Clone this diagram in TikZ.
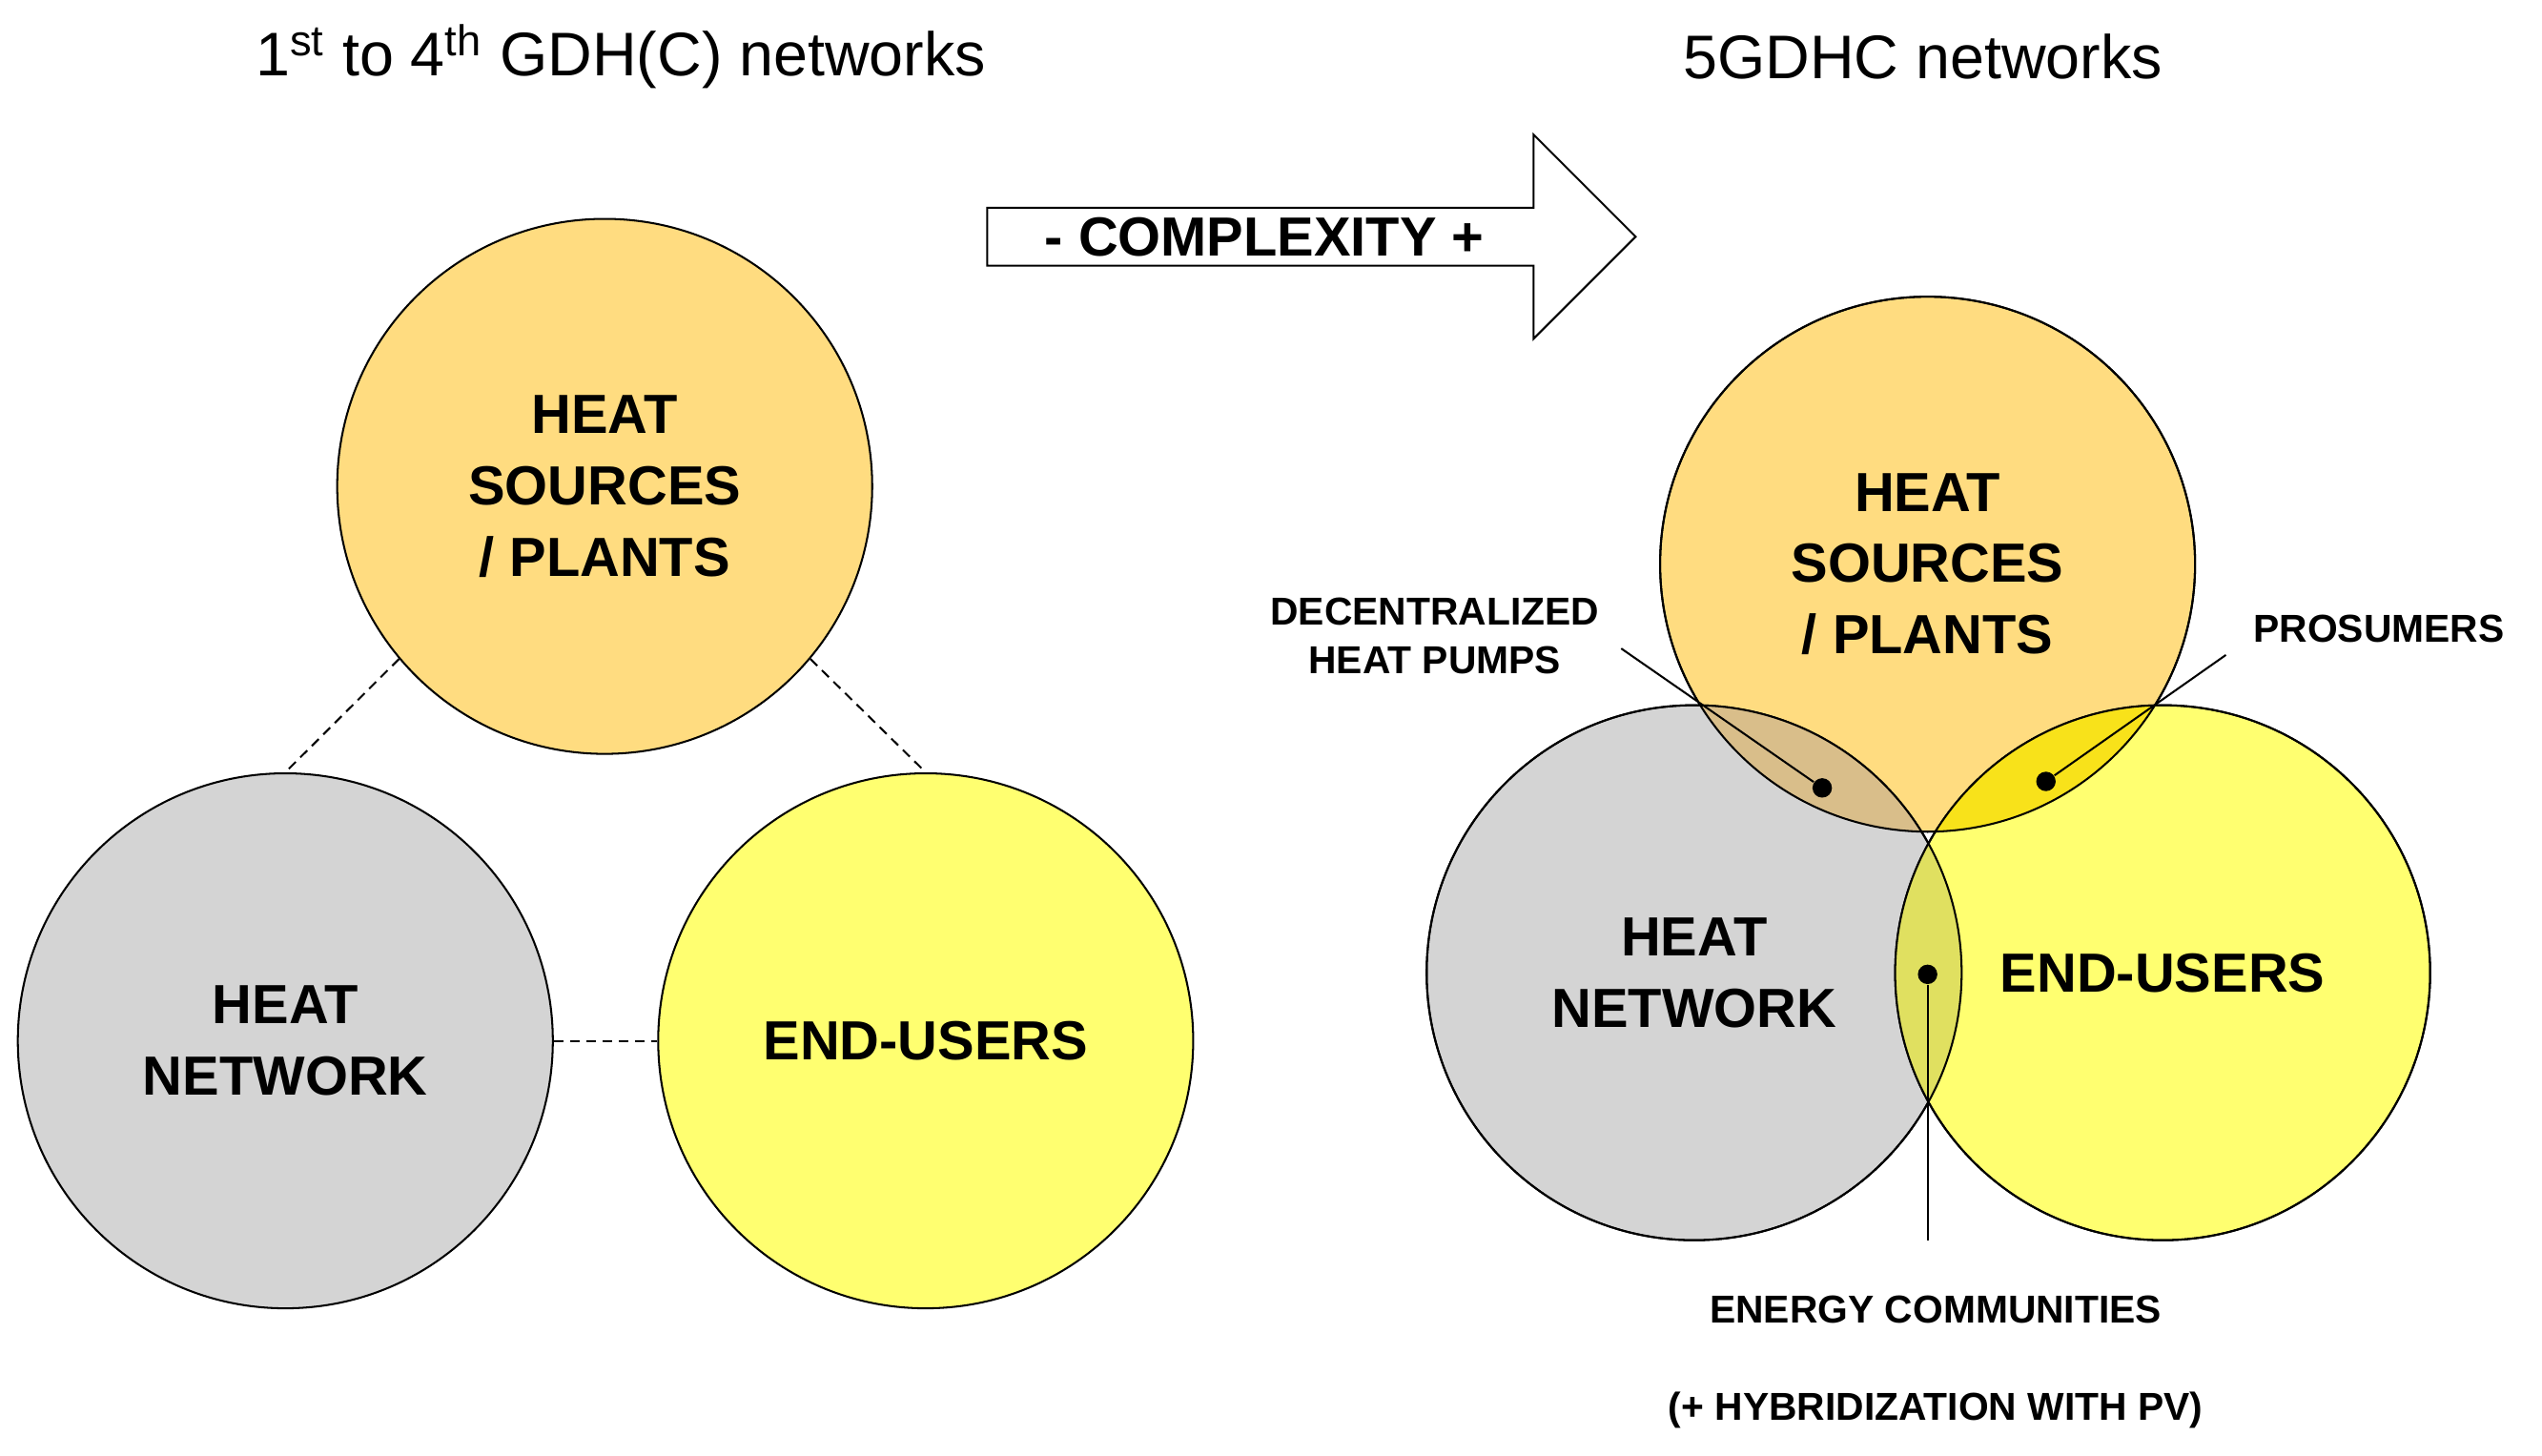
\documentclass[tikz,border=0pt]{standalone}
\usepackage{fontspec}
\setmainfont{Liberation Sans}
\usetikzlibrary{shapes.arrows}
\definecolor{hs}{HTML}{FFDC80}
\definecolor{hn}{HTML}{D4D4D4}
\definecolor{eu}{HTML}{FFFF70}
\definecolor{hsn}{HTML}{D9BE8A}
\definecolor{hseu}{HTML}{F8E21A}
\definecolor{neu}{HTML}{E0E060}
\begin{document}
\begin{tikzpicture}[x=0.5pt,y=-0.5pt,
  circ/.style={circle,draw=black,line width=0.6pt,minimum size=330*0.5pt,inner sep=0pt},
  big/.style={font=\bfseries\fontsize{17}{22}\selectfont,align=center,text=black},
  small/.style={font=\bfseries\fontsize{12}{15}\selectfont,align=center},
  ttl/.style={font=\fontsize{19}{22}\selectfont},
  dashln/.style={densely dashed,line width=0.6pt},
  dot/.style={circle,fill=black,inner sep=0pt,minimum size=6pt}]
\useasboundingbox (0,0) rectangle (1568,898);
% titles
\node[ttl] (t1) at (383,35) {1\textsuperscript{st} to 4\textsuperscript{th} GDH(C) networks};
\node[ttl] (t2) at (1186,35) {5GDHC networks};
% arrow
\node[single arrow,draw,line width=0.6pt,fill=white,minimum height=200pt,minimum width=63pt,single arrow head extend=16pt,inner sep=0pt,font=\bfseries\fontsize{17}{20}\selectfont] (arr) at (800,146) {\hspace*{-20pt}- COMPLEXITY +};
% left
\node[circ,fill=hs] (ls) at (373,300) {};
\node[circ,fill=hn] (ln) at (176,642) {};
\node[circ,fill=eu] (le) at (571,642) {};
\node[big] at (373,300) {HEAT\\SOURCES\\/ PLANTS};
\node[big] at (176,642) {HEAT\\NETWORK};
\node[big] at (571,642) {END-USERS};
\draw[dashln] (ls.-140) -- (ln.90);
\draw[dashln] (ls.-40) -- (le.90);
\draw[dashln] (ln.east) -- (le.west);
% right
\node[circ,fill=hs] (rs) at (1189,348) {};
\node[circ,fill=hn] (rn) at (1045,600) {};
\node[circ,fill=eu] (re) at (1334,600) {};
\begin{scope}
\clip (1189,348) circle (165);
\fill[hsn] (1045,600) circle (165);
\fill[hseu] (1334,600) circle (165);
\end{scope}
\begin{scope}
\clip (1045,600) circle (165);
\fill[neu] (1334,600) circle (165);
\end{scope}
\draw[line width=0.6pt] (1189,348) circle (165) (1045,600) circle (165) (1334,600) circle (165);
\node[big] at (1189,348) {HEAT\\SOURCES\\/ PLANTS};
\node[big] at (1045,600) {HEAT\\NETWORK};
\node[big] at (1334,600) {END-USERS};
% labels
\node[small] (dl) at (885,392) {DECENTRALIZED\\HEAT PUMPS};
\node[dot] (d1) at (1124,486) {};
\coordinate (c1) at (1000,400);
\draw[line width=0.6pt] (c1) -- (d1);
\node[small,anchor=west] (pl) at (1383,388) {PROSUMERS};
\node[dot] (d2) at (1262,482) {};
\coordinate (c2) at (1373,404);
\draw[line width=0.6pt] (c2) -- (d2);
\node[dot] (d3) at (1189,601) {};
\coordinate (c3) at (1189,765);
\draw[line width=0.6pt] (d3) -- (c3);
\node[small] (el) at (1194,808) {ENERGY COMMUNITIES};
\node[small] (el2) at (1194,870) {(+ HYBRIDIZATION WITH PV)};
\end{tikzpicture}
\end{document}
